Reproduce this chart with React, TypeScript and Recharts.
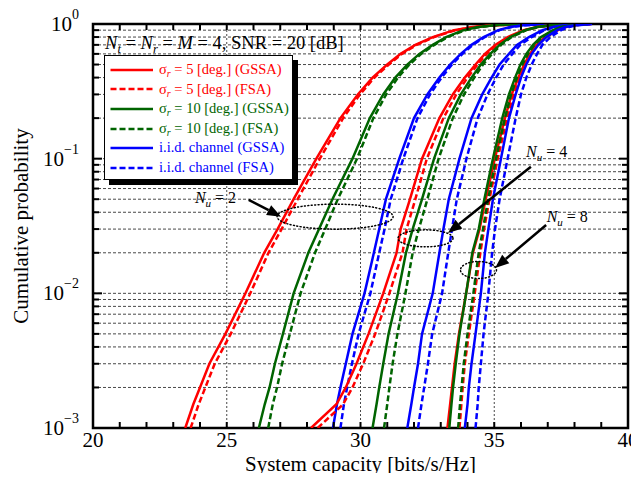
import React from 'react';
import {
  LineChart,
  Line,
  XAxis,
  YAxis,
  CartesianGrid,
  ReferenceLine,
  ReferenceArea,
  ReferenceDot,
  Legend,
  Label,
} from 'recharts';

// ---------- layout ----------
const W = 623;
const H = 465;
const PLOT_LEFT = 85;
const PLOT_TOP = 16;
const PLOT_RIGHT = 620;
const PLOT_BOTTOM = 420;
const FONT = '"Liberation Serif", "Times New Roman", "DejaVu Serif", serif';

const RED = '#ff0000';
const GREEN = '#006400';
const BLUE = '#0000ff';

// ---------- data ----------
const cdfLevels = [0.001, 0.0015, 0.002, 0.003, 0.005, 0.01, 0.02, 0.03, 0.05, 0.1, 0.2, 0.3, 0.4, 0.5, 0.6, 0.7, 0.8, 0.9, 0.95, 0.98, 1];

// N_u = 2
const red2Gssa = [23.45, 23.75, 24.0, 24.35, 24.95, 25.7, 26.4, 26.9, 27.5, 28.35, 29.25, 29.9, 30.45, 31.0, 31.5, 32.05, 32.7, 33.5, 34.2, 35.0, 36.3];
const red2Fsa = [23.65, 23.95, 24.2, 24.55, 25.15, 25.88, 26.56, 27.05, 27.65, 28.48, 29.35, 29.98, 30.52, 31.06, 31.55, 32.1, 32.75, 33.55, 34.25, 35.05, 36.3];
const green2Gssa = [26.2, 26.42, 26.6, 26.8, 27.1, 27.5, 28.05, 28.45, 28.95, 29.7, 30.35, 30.85, 31.3, 31.75, 32.2, 32.7, 33.2, 33.85, 34.4, 35.0, 36.0];
const green2Fsa = [26.55, 26.72, 26.88, 27.07, 27.36, 27.76, 28.3, 28.68, 29.15, 29.87, 30.48, 30.96, 31.4, 31.83, 32.27, 32.76, 33.26, 33.9, 34.45, 35.05, 36.0];
const blue2Gssa = [28.97, 29.12, 29.25, 29.45, 29.7, 30.15, 30.5, 30.7, 30.95, 31.45, 32.0, 32.5, 32.95, 33.35, 33.75, 34.15, 34.6, 35.15, 35.6, 36.1, 37.0];
const blue2Fsa = [29.25, 29.38, 29.5, 29.68, 29.93, 30.37, 30.7, 30.9, 31.13, 31.6, 32.13, 32.6, 33.03, 33.42, 33.81, 34.2, 34.65, 35.2, 35.65, 36.15, 37.0];

// N_u = 4
const red4Gssa = [28.15, 29.1, 29.45, 29.85, 30.3, 30.85, 31.35, 31.5, 31.85, 32.3, 32.95, 33.45, 33.9, 34.3, 34.65, 35.05, 35.5, 36.1, 36.6, 37.1, 38.0];
const red4Fsa = [28.4, 29.35, 29.7, 30.1, 30.55, 31.08, 31.57, 31.72, 32.05, 32.48, 33.1, 33.58, 34.0, 34.38, 34.72, 35.1, 35.55, 36.15, 36.65, 37.15, 38.0];
const green4Gssa = [30.45, 30.6, 30.7, 30.85, 31.05, 31.4, 31.7, 31.95, 32.3, 32.75, 33.3, 33.75, 34.15, 34.5, 34.85, 35.2, 35.6, 36.15, 36.6, 37.1, 37.9];
const green4Fsa = [30.88, 31.0, 31.08, 31.2, 31.38, 31.68, 31.95, 32.18, 32.5, 32.92, 33.45, 33.87, 34.25, 34.58, 34.92, 35.26, 35.65, 36.2, 36.65, 37.15, 37.9];
const blue4Gssa = [31.75, 31.9, 32.0, 32.15, 32.3, 32.7, 32.95, 33.1, 33.3, 33.7, 34.15, 34.55, 34.9, 35.2, 35.55, 35.85, 36.3, 36.8, 37.2, 37.6, 38.3];
const blue4Fsa = [32.15, 32.28, 32.38, 32.52, 32.68, 33.05, 33.28, 33.42, 33.6, 33.96, 34.38, 34.75, 35.07, 35.35, 35.68, 35.97, 36.4, 36.88, 37.27, 37.65, 38.3];

// N_u = 8
const red8Gssa = [33.25, 33.35, 33.42, 33.52, 33.68, 33.95, 34.2, 34.45, 34.68, 35.02, 35.4, 35.65, 35.9, 36.12, 36.33, 36.58, 36.9, 37.35, 37.65, 38.0, 38.6];
const red8Fsa = [33.7, 33.77, 33.82, 33.9, 34.05, 34.27, 34.48, 34.62, 34.82, 35.13, 35.48, 35.72, 35.95, 36.17, 36.38, 36.62, 36.93, 37.38, 37.68, 38.02, 38.6];
const green8Gssa = [33.32, 33.4, 33.46, 33.56, 33.7, 33.95, 34.18, 34.42, 34.63, 34.95, 35.3, 35.55, 35.78, 35.98, 36.2, 36.45, 36.75, 37.2, 37.5, 37.9, 38.5];
const green8Fsa = [33.65, 33.72, 33.78, 33.86, 34.0, 34.22, 34.42, 34.58, 34.77, 35.07, 35.4, 35.63, 35.85, 36.05, 36.26, 36.5, 36.8, 37.25, 37.55, 37.93, 38.5];
const blue8Gssa = [33.9, 34.0, 34.05, 34.15, 34.3, 34.5, 34.65, 34.78, 34.95, 35.25, 35.55, 35.8, 36.0, 36.2, 36.4, 36.65, 36.95, 37.35, 37.65, 38.0, 38.6];
const blue8Fsa = [34.3, 34.38, 34.42, 34.5, 34.6, 34.78, 34.92, 35.03, 35.2, 35.5, 35.8, 36.0, 36.2, 36.4, 36.6, 36.8, 37.1, 37.5, 37.8, 38.1, 38.7];

const xTicks = [20, 21, 22, 23, 24, 25, 26, 27, 28, 29, 30, 31, 32, 33, 34, 35, 36, 37, 38, 39, 40];
const xGridValues = [25, 30, 35];
const yTicks = [
  0.001, 0.002, 0.003, 0.004, 0.005, 0.006, 0.007, 0.008, 0.009,
  0.01, 0.02, 0.03, 0.04, 0.05, 0.06, 0.07, 0.08, 0.09,
  0.1, 0.2, 0.3, 0.4, 0.5, 0.6, 0.7, 0.8, 0.9, 1,
];
const yMajorTicks = [0.001, 0.01, 0.1, 1];

const legendLabels = [
  { sym: 'σ', sub: 'r', text: ' = 5 [deg.] (GSSA)', color: RED, dashed: false },
  { sym: 'σ', sub: 'r', text: ' = 5 [deg.] (FSA)', color: RED, dashed: true },
  { sym: 'σ', sub: 'r', text: ' = 10 [deg.] (GSSA)', color: GREEN, dashed: false },
  { sym: 'σ', sub: 'r', text: ' = 10 [deg.] (FSA)', color: GREEN, dashed: true },
  { sym: '', sub: '', text: 'i.i.d. channel (GSSA)', color: BLUE, dashed: false },
  { sym: '', sub: '', text: 'i.i.d. channel (FSA)', color: BLUE, dashed: true },
];

// annotation anchors in data coordinates (capacity, probability)
const nuNotes = [
  { label: '2', text: [23.81, 0.0511], from: [25.82, 0.0494], to: [27.03, 0.0371], ellipse: [29.05, 0.0371], rx: 58, ry: 12.5 },
  { label: '4', text: [36.19, 0.1127], from: [36.37, 0.0872], to: [33.27, 0.0281], ellipse: [32.43, 0.0256], rx: 27.5, ry: 8.5 },
  { label: '8', text: [36.96, 0.0371], from: [36.94, 0.0322], to: [35.03, 0.0154], ellipse: [34.41, 0.0149], rx: 18, ry: 8.5 },
];
const titleNoteAnchor = [20.45, 0.7227];

const DASH = '6 3';
const seriesList = [
  { id: 'r2g', caps: red2Gssa, color: RED, dashed: false },
  { id: 'r2f', caps: red2Fsa, color: RED, dashed: true },
  { id: 'g2g', caps: green2Gssa, color: GREEN, dashed: false },
  { id: 'g2f', caps: green2Fsa, color: GREEN, dashed: true },
  { id: 'b2g', caps: blue2Gssa, color: BLUE, dashed: false },
  { id: 'b2f', caps: blue2Fsa, color: BLUE, dashed: true },
  { id: 'r4g', caps: red4Gssa, color: RED, dashed: false },
  { id: 'r4f', caps: red4Fsa, color: RED, dashed: true },
  { id: 'g4g', caps: green4Gssa, color: GREEN, dashed: false },
  { id: 'g4f', caps: green4Fsa, color: GREEN, dashed: true },
  { id: 'b4g', caps: blue4Gssa, color: BLUE, dashed: false },
  { id: 'b4f', caps: blue4Fsa, color: BLUE, dashed: true },
  { id: 'r8g', caps: red8Gssa, color: RED, dashed: false },
  { id: 'r8f', caps: red8Fsa, color: RED, dashed: true },
  { id: 'g8g', caps: green8Gssa, color: GREEN, dashed: false },
  { id: 'g8f', caps: green8Fsa, color: GREEN, dashed: true },
  { id: 'b8g', caps: blue8Gssa, color: BLUE, dashed: false },
  { id: 'b8f', caps: blue8Fsa, color: BLUE, dashed: true },
];

const toRows = (caps: number[]) => caps.map((c, i) => ({ c, p: cdfLevels[i] }));

// ---------- custom renderers ----------
const XTick = (props: any) => {
  const { x, payload } = props;
  const v = payload.value;
  const major = v % 5 === 0;
  const inner = v > 20 && v < 40;
  return (
    <g>
      {inner && <line x1={x} x2={x} y1={PLOT_BOTTOM} y2={PLOT_BOTTOM - 6} stroke="#000" strokeWidth={2} />}
      {inner && <line x1={x} x2={x} y1={PLOT_TOP} y2={PLOT_TOP + 6} stroke="#000" strokeWidth={2} />}
      {major && (
        <text x={x} y={PLOT_BOTTOM + 19} textAnchor="middle" fontSize={21} fontFamily={FONT} fill="#000">
          {v}
        </text>
      )}
    </g>
  );
};

const YTick = (props: any) => {
  const { y, payload } = props;
  const v = payload.value;
  const lg = Math.log10(v);
  const exp = Math.round(lg);
  const major = Math.abs(lg - exp) < 1e-6;
  const len = major ? 9 : 6;
  const inner = v > 0.0011 && v < 0.99;
  return (
    <g>
      {inner && <line x1={PLOT_LEFT} x2={PLOT_LEFT + len} y1={y} y2={y} stroke="#000" strokeWidth={2} />}
      {inner && <line x1={PLOT_RIGHT - len} x2={PLOT_RIGHT} y1={y} y2={y} stroke="#000" strokeWidth={2} />}
      {major && yMajorTicks.includes(v) && (
        <text x={71} y={y + 7} textAnchor="end" fontSize={21} fontFamily={FONT} fill="#000">
          10
          <tspan dy={-12} fontSize={14}>
            {exp === 0 ? '0' : '\u2212' + String(-exp)}
          </tspan>
        </text>
      )}
    </g>
  );
};

const ArrowShape = (props: any) => {
  const x1 = Number(props.x1);
  const y1 = Number(props.y1);
  const x2 = Number(props.x2);
  const y2 = Number(props.y2);
  const ang = Math.atan2(y2 - y1, x2 - x1);
  const L = 14;
  const hw = 5.5;
  const bx = x2 - L * Math.cos(ang);
  const by = y2 - L * Math.sin(ang);
  const px = -Math.sin(ang) * hw;
  const py = Math.cos(ang) * hw;
  return (
    <g>
      <line x1={x1} y1={y1} x2={bx} y2={by} stroke="#000" strokeWidth={2.5} />
      <polygon points={`${x2},${y2} ${bx + px},${by + py} ${bx - px},${by - py}`} fill="#000" />
    </g>
  );
};

const makeEllipse = (rx: number, ry: number) => (props: any) => (
  <ellipse
    cx={props.cx}
    cy={props.cy}
    rx={rx}
    ry={ry}
    fill="none"
    stroke="#000"
    strokeWidth={1.5}
    strokeDasharray="1 2.4"
    strokeLinecap="round"
  />
);

const makeNuText = (label: string) => (props: any) => (
  <text x={props.cx} y={Number(props.cy) + 5} fontSize={16} fontFamily={FONT} fill="#000">
    <tspan fontStyle="italic">N</tspan>
    <tspan fontStyle="italic" fontSize={11} dy={4}>u</tspan>
    <tspan dy={-4}>{' = ' + label}</tspan>
  </text>
);

const TitleNote = (props: any) => (
  <text x={props.cx} y={Number(props.cy) + 6} fontSize={18.5} fontFamily={FONT} fill="#000">
    <tspan fontStyle="italic">N</tspan>
    <tspan fontStyle="italic" fontSize={12.5} dy={4}>t</tspan>
    <tspan dy={-4}> = </tspan>
    <tspan fontStyle="italic">N</tspan>
    <tspan fontStyle="italic" fontSize={12.5} dy={4}>r</tspan>
    <tspan dy={-4}> = </tspan>
    <tspan fontStyle="italic">M</tspan>
    <tspan> = 4, SNR = 20 [dB]</tspan>
  </text>
);

const LegendBox = () => (
  <div
    style={{
      width: 189,
      height: 125,
      boxSizing: 'border-box',
      background: '#fff',
      border: '1.5px solid #000',
      boxShadow: '5px 5px 0 #000',
      paddingTop: 4,
      fontFamily: FONT,
      fontSize: 14.5,
    }}
  >
    {legendLabels.map((item, i) => (
      <div key={i} style={{ display: 'flex', alignItems: 'center', height: 19.6, lineHeight: '19.6px' }}>
        <svg width={54} height={10} style={{ flex: '0 0 auto' }}>
          <line
            x1={5.5}
            x2={48}
            y1={5}
            y2={5}
            stroke={item.color}
            strokeWidth={2.5}
            strokeDasharray={item.dashed ? DASH : undefined}
          />
        </svg>
        <span style={{ color: item.color, whiteSpace: 'nowrap' }}>
          {item.sym}
          {item.sub && (
            <sub style={{ fontStyle: 'italic', fontSize: 10, verticalAlign: '-3px', lineHeight: 0 }}>{item.sub}</sub>
          )}
          {item.text}
        </span>
      </div>
    ))}
  </div>
);

export default function App() {
  return (
    <div style={{ width: W, height: H }}>
      <style>{'.recharts-surface{overflow:visible !important;} .recharts-wrapper{overflow:visible !important;}'}</style>
      <LineChart
        width={W}
        height={H}
        margin={{ top: PLOT_TOP, right: W - PLOT_RIGHT, left: 0, bottom: 0 }}
        style={{ fontFamily: FONT }}
      >
        <CartesianGrid vertical={false} stroke="#333" strokeWidth={0.9} strokeDasharray="3 2" />
        {xGridValues.map((v) => (
          <ReferenceLine key={'vg' + v} x={v} stroke="#333" strokeWidth={0.9} strokeDasharray="2 2" />
        ))}
        <XAxis
          type="number"
          dataKey="c"
          domain={[20, 40]}
          ticks={xTicks}
          interval={0}
          allowDataOverflow
          height={H - PLOT_BOTTOM}
          axisLine={false}
          tickLine={false}
          tick={<XTick />}
        >
          <Label
            content={() => (
              <text
                x={(PLOT_LEFT + PLOT_RIGHT) / 2}
                y={H - 2}
                textAnchor="middle"
                fontSize={21}
                fontFamily={FONT}
                fill="#000"
              >
                System capacity [bits/s/Hz]
              </text>
            )}
          />
        </XAxis>
        <YAxis
          type="number"
          dataKey="p"
          scale="log"
          domain={[0.001, 1]}
          ticks={yTicks}
          interval={0}
          allowDataOverflow
          width={PLOT_LEFT}
          axisLine={false}
          tickLine={false}
          tick={<YTick />}
        >
          <Label
            content={() => (
              <text
                x={20}
                y={(PLOT_TOP + PLOT_BOTTOM) / 2}
                transform={`rotate(-90 20 ${(PLOT_TOP + PLOT_BOTTOM) / 2})`}
                textAnchor="middle"
                fontSize={21}
                fontFamily={FONT}
                fill="#000"
              >
                Cumulative probability
              </text>
            )}
          />
        </YAxis>

        {seriesList.map((s) => (
          <Line
            key={s.id}
            data={toRows(s.caps)}
            dataKey="p"
            type="linear"
            stroke={s.color}
            strokeWidth={2.5}
            strokeDasharray={s.dashed ? DASH : undefined}
            dot={false}
            activeDot={false}
            isAnimationActive={false}
            legendType="none"
          />
        ))}

        {nuNotes.map((n) => (
          <ReferenceDot
            key={'e' + n.label}
            x={n.ellipse[0]}
            y={n.ellipse[1]}
            r={1}
            shape={makeEllipse(n.rx, n.ry)}
          />
        ))}
        {nuNotes.map((n) => (
          <ReferenceLine
            key={'a' + n.label}
            segment={[
              { x: n.from[0], y: n.from[1] },
              { x: n.to[0], y: n.to[1] },
            ]}
            shape={ArrowShape}
          />
        ))}
        {nuNotes.map((n) => (
          <ReferenceDot key={'t' + n.label} x={n.text[0]} y={n.text[1]} r={1} shape={makeNuText(n.label)} />
        ))}
        <ReferenceDot x={titleNoteAnchor[0]} y={titleNoteAnchor[1]} r={1} shape={TitleNote} />

        <ReferenceArea x1={20} x2={40} y1={0.001} y2={1} fill="none" stroke="#000" strokeWidth={2.5} />

        <Legend
          layout="vertical"
          align="center"
          verticalAlign="middle"
          content={() => <LegendBox />}
          wrapperStyle={{ left: PLOT_LEFT + 11, top: PLOT_TOP + 31, width: 189, height: 125 }}
        />
      </LineChart>
    </div>
  );
}
